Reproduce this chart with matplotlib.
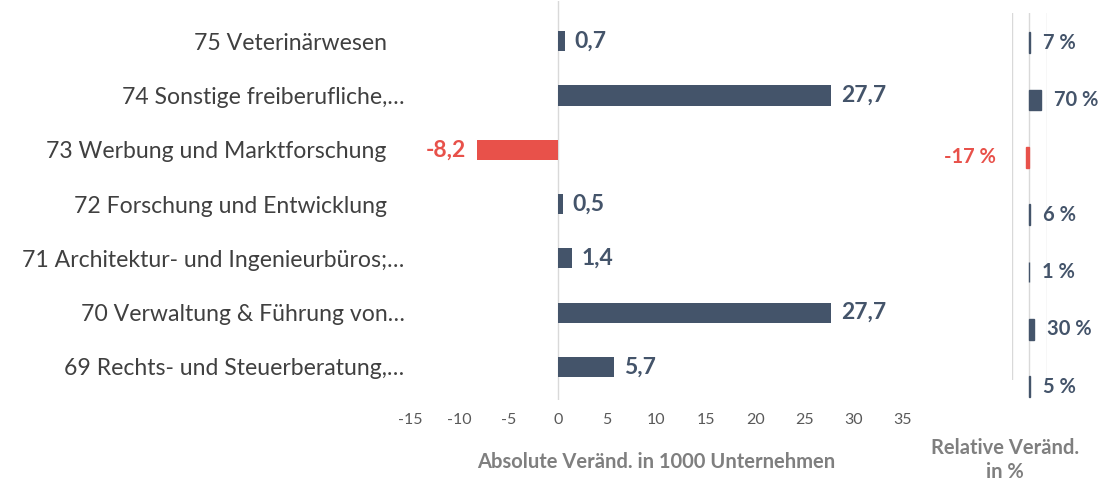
import numpy as np
import matplotlib.pyplot as plt

plt.rcParams['font.family'] = ['Lato', 'DejaVu Sans']

# Daten (von unten nach oben)
kategorien = ['69 Rechts- und Steuerberatung,…',
              '70 Verwaltung & Führung von…',
              '71 Architektur- und Ingenieurbüros;…',
              '72 Forschung und Entwicklung   ',
              '73 Werbung und Marktforschung   ',
              '74 Sonstige freiberufliche,…',
              '75 Veterinärwesen   ']
absolut = [5.7, 27.7, 1.4, 0.5, -8.2, 27.7, 0.7]
relativ = [5, 30, 1, 6, -17, 70, 7]
x_ticks = [-15, -10, -5, 0, 5, 10, 15, 20, 25, 30, 35]

BLAU = '#44546A'
ROT = '#E8514A'
GRAU = '#595959'
W, H = 1101, 482

def fmt(v):
    return ('%.1f' % v).replace('.', ',')

fig = plt.figure(figsize=(W / 100, H / 100), dpi=100)

# linkes Diagramm: absolute Veraenderung
ax = fig.add_axes([410 / W, 1 - 400 / H, (903 - 410) / W, (400 - 1) / H])
y = np.arange(len(kategorien))
farben = [ROT if v < 0 else BLAU for v in absolut]
ax.barh(y, absolut, height=0.37, color=farben, zorder=3)
ax.axvline(0, color='#D9D9D9', lw=1, zorder=1)
ax.set_xlim(-15, 35)
ax.set_ylim(-0.61, 6.74)
ax.set_xticks(x_ticks)
ax.set_xticklabels([str(t) for t in x_ticks], fontsize=11.5, color=GRAU)
ax.tick_params(axis='x', length=0, pad=9)
ax.set_yticks(y)
ax.set_yticklabels(kategorien, fontsize=16.6, color='#404040')
ax.tick_params(axis='y', length=0, pad=4)
for s in ax.spines.values():
    s.set_visible(False)
ax.set_xlabel('Absolute Veränd. in 1000 Unternehmen', fontsize=14.5,
              fontweight='bold', color='#7F7F7F', labelpad=18)
for i, v in enumerate(absolut):
    if v < 0:
        ax.annotate(fmt(v), (v, i), xytext=(-8, 0), textcoords='offset points',
                    ha='right', va='center', fontsize=16.5, fontweight='bold', color=ROT)
    else:
        ax.annotate(fmt(v), (v, i), xytext=(7, 0), textcoords='offset points',
                    ha='left', va='center', fontsize=16.5, fontweight='bold', color=BLAU)

# rechtes Diagramm: relative Veraenderung
ax2 = fig.add_axes([1012 / W, 1 - 380 / H, (1046.5 - 1012) / W, (380 - 13) / H])
farben2 = [ROT if v < 0 else BLAU for v in relativ]
ax2.barh(y, relativ, height=0.36, color=farben2, edgecolor=farben2, lw=1,
         zorder=3, clip_on=False)
for g in [-100, 0, 100]:
    ax2.axvline(g, color='#D9D9D9', lw=1, zorder=1)
ax2.set_xlim(-100, 100)
ax2.set_ylim(0.114, 6.52)
ax2.set_xticks([])
ax2.set_yticks([])
for s in ax2.spines.values():
    s.set_visible(False)
for i, v in enumerate(relativ):
    if v < 0:
        ax2.annotate('%d %%' % v, (v, i), xytext=(-22, 0), textcoords='offset points',
                     ha='right', va='center', fontsize=14.5, fontweight='bold',
                     color=ROT, annotation_clip=False)
    else:
        ax2.annotate('%d %%' % v, (v, i), xytext=(9, 0), textcoords='offset points',
                     ha='left', va='center', fontsize=14.5, fontweight='bold',
                     color=BLAU, annotation_clip=False)

fig.text(1005 / W, 1 - 460 / H, 'Relative Veränd.\nin %', ha='center', va='center',
         fontsize=14.5, fontweight='bold', color='#7F7F7F', linespacing=1.3)

fig.savefig('out.png', dpi=100)
